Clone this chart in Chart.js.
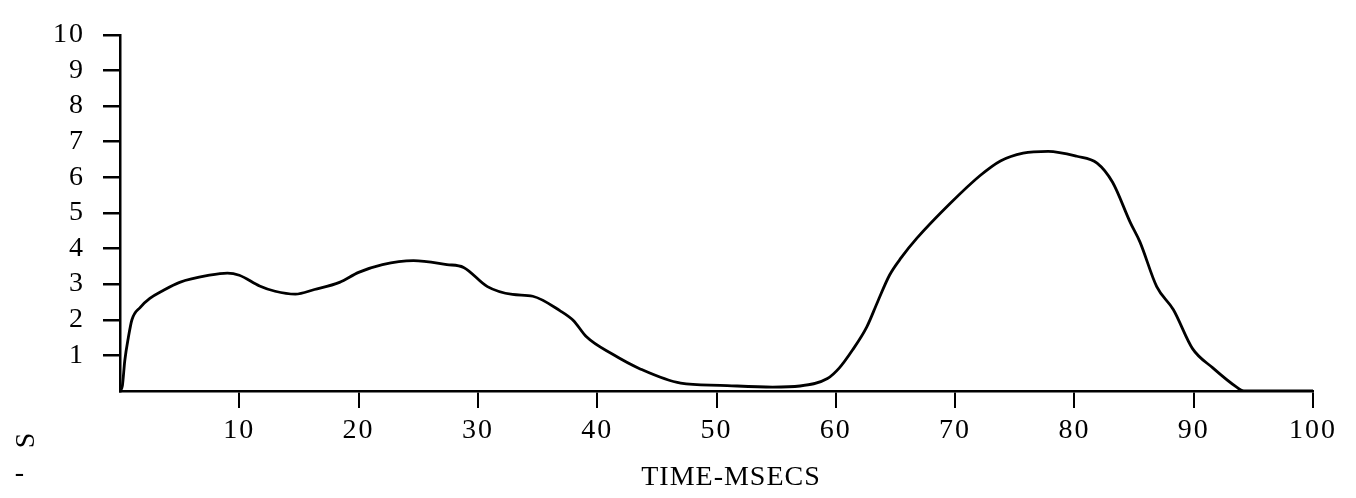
<!DOCTYPE html>
<html>
<head>
<meta charset="utf-8">
<script src="https://cdn.jsdelivr.net/npm/chart.js@4/dist/chart.umd.min.js"></script>
<style>
  body { margin: 0; background: #fff; }
  #wrap { width: 1356px; height: 498px; }
</style>
</head>
<body>
<div id="wrap"><canvas id="traceChart" width="1356" height="498"></canvas></div>
<script>
// values (time in msecs, amplitude in axis units)
const timeMs = [0, 0.2, 0.4, 0.7, 1.0, 1.7, 2.5, 3.5, 5, 7.5, 9, 10, 11.7, 13, 14.7, 16.3, 18.4, 20, 22,
    24.6, 27.4, 28.8, 30.8, 32.9, 34.6, 36.9, 38, 39.1, 41.3, 43.6, 47, 50.3, 54.7, 57, 59.3, 60.3, 61.4,
    62.6, 63.5, 64.5, 65.5, 66.8, 69.6, 72.1, 73.8, 75.7, 77.8, 80.2, 81.9, 83.2, 84.7, 85.5, 86.9, 88.3, 89.9,
    91.6, 93.6, 94.2, 100];
const amplitude = [0, 0.15, 0.85, 1.5, 2.0, 2.35, 2.6, 2.8, 3.05, 3.25, 3.31, 3.25, 2.95, 2.8, 2.72, 2.85, 3.05, 3.33, 3.55,
    3.66, 3.55, 3.47, 2.93, 2.71, 2.66, 2.25, 1.98, 1.52, 1.03, 0.62, 0.22, 0.16, 0.11, 0.14, 0.35, 0.65, 1.15,
    1.8, 2.5, 3.25, 3.75, 4.29, 5.27, 6.05, 6.46, 6.68, 6.73, 6.59, 6.4, 5.86, 4.72, 4.18, 2.93, 2.28, 1.19,
    0.65, 0.11, 0, 0];
const xTicks = [10, 20, 30, 40, 50, 60, 70, 80, 90, 100];
const yTicks = [1, 2, 3, 4, 5, 6, 7, 8, 9, 10];
const xTitle = "TIME-MSECS";
const yTitleBits = ["S", "-"];

const tickFont = { family: "'Liberation Serif', serif", size: 28 };

// typewriter-ish spacing on the labels
const spacingPlugin = {
    id: 'spacing',
    beforeLayout(chart) { chart.ctx.letterSpacing = '2px'; },
    beforeDraw(chart) { chart.ctx.letterSpacing = '2px'; }
};

// axis captions placed where the original has them
const captionPlugin = {
    id: 'captions',
    afterDraw(chart) {
        const ctx = chart.ctx;
        ctx.save();
        ctx.fillStyle = '#000';
        ctx.font = "28px 'Liberation Serif', serif";
        ctx.letterSpacing = '1px';
        ctx.textAlign = 'center';
        ctx.textBaseline = 'middle';
        ctx.fillText(xTitle, 731, 478);
        ctx.save();
        ctx.translate(27, 440);
        ctx.rotate(-Math.PI / 2);
        ctx.fillText(yTitleBits[0], 0, 0);
        ctx.restore();
        ctx.fillText(yTitleBits[1], 20, 474);
        ctx.restore();
    }
};

const tickColor = ctx => (ctx.tick && ctx.tick.value === 0) ? 'rgba(0,0,0,0)' : '#000';

new Chart(document.getElementById('traceChart'), {
    type: 'line',
    data: {
        datasets: [{
            data: timeMs.map((t, i) => ({ x: t, y: amplitude[i] })),
            borderColor: '#000',
            borderWidth: 2.8,
            pointRadius: 0,
            fill: false,
            cubicInterpolationMode: 'monotone'
        }]
    },
    options: {
        responsive: false,
        animation: false,
        color: '#000',
        layout: { padding: { left: 0, right: 43, top: 22, bottom: 0 } },
        plugins: { legend: { display: false }, tooltip: { enabled: false } },
        scales: {
            x: {
                type: 'linear',
                min: 0,
                max: 100,
                afterBuildTicks: scale => { scale.ticks = [0].concat(xTicks).map(v => ({ value: v })); },
                afterFit: scale => { scale.height = 107; },
                border: { color: '#000', width: 2.5 },
                grid: { drawOnChartArea: false, drawTicks: true, tickLength: 17, color: tickColor, lineWidth: 2 },
                ticks: {
                    color: '#000',
                    font: tickFont,
                    padding: 6,
                    maxRotation: 0,
                    autoSkip: false,
                    callback: v => v === 0 ? '' : String(v)
                }
            },
            y: {
                min: 0,
                max: 10,
                afterBuildTicks: scale => { scale.ticks = [0].concat(yTicks).map(v => ({ value: v })); },
                afterFit: scale => { scale.width = 120; },
                border: { color: '#000', width: 2.5 },
                grid: { drawOnChartArea: false, drawTicks: true, tickLength: 17, color: tickColor, lineWidth: 2.5 },
                ticks: {
                    color: '#000',
                    font: tickFont,
                    padding: 18,
                    autoSkip: false,
                    callback: v => v === 0 ? '' : String(v)
                }
            }
        }
    },
    plugins: [spacingPlugin, captionPlugin]
});
</script>
</body>
</html>
